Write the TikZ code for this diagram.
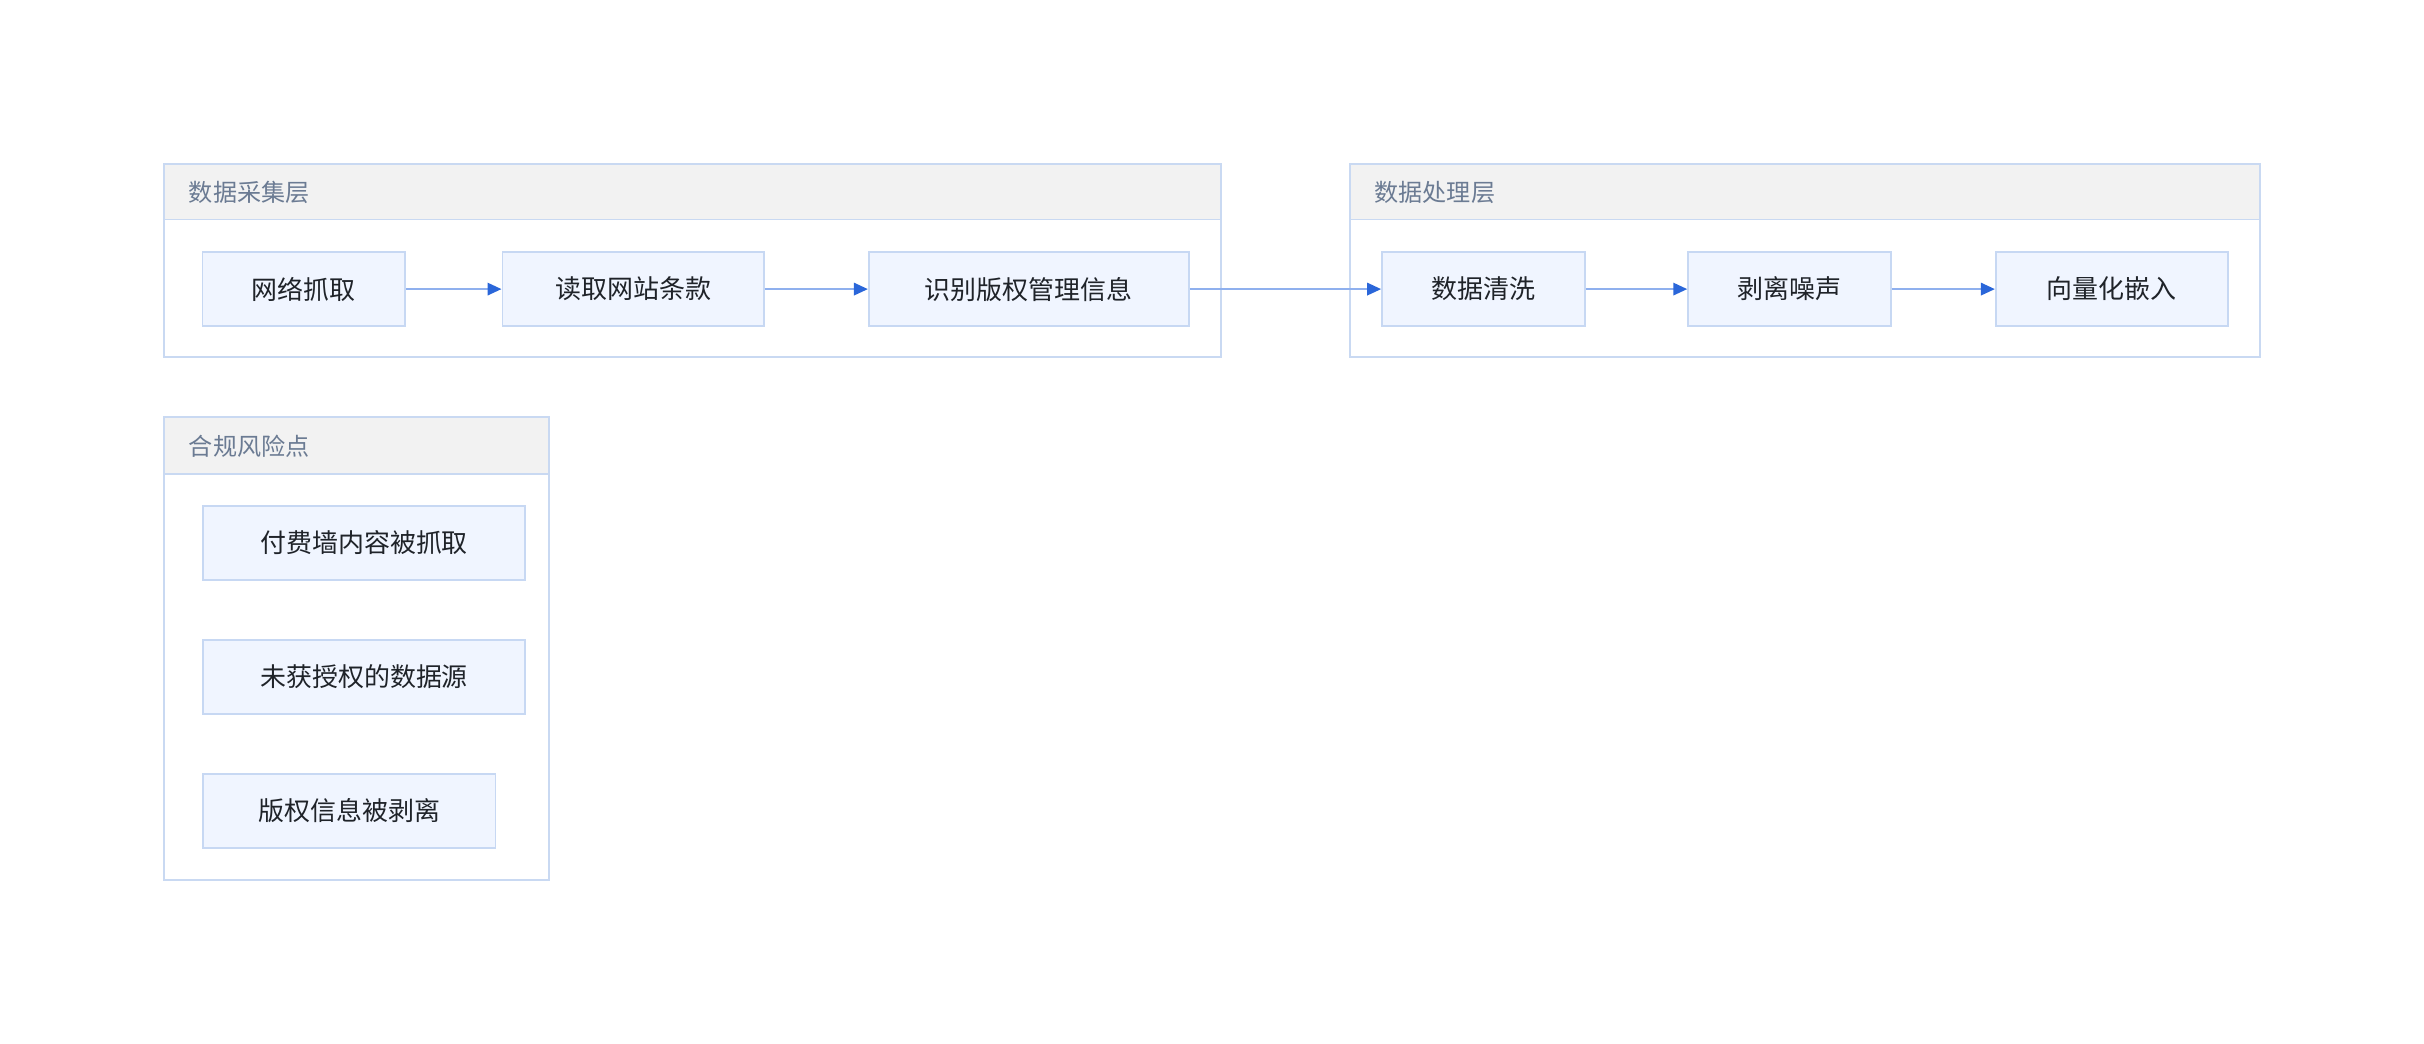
\documentclass[tikz,border=0pt]{standalone}
\usepackage{fontspec}
\setmainfont{Noto Sans CJK SC}
\usetikzlibrary{arrows.meta}
\definecolor{nodefill}{HTML}{F0F5FF}
\definecolor{nodeborder}{HTML}{C7D8F3}
\definecolor{grpborder}{HTML}{C9D9F2}
\definecolor{hdrfill}{HTML}{F2F2F2}
\definecolor{hdrtext}{HTML}{6B7B93}
\definecolor{lineclr}{HTML}{8FB0EE}
\definecolor{headclr}{HTML}{2A66D9}
\definecolor{txt}{HTML}{1F2329}
\tikzset{
  stepbox/.style={draw=nodeborder, fill=nodefill, line width=1.2pt, inner sep=0pt,
    font=\fontsize{16.8}{19}\selectfont, text=txt},
  grpbox/.style={draw=grpborder, line width=1.2pt},
  hdrbox/.style={draw=grpborder, fill=hdrfill, line width=1.2pt},
  grptitle/.style={anchor=west, inner sep=0pt, font=\fontsize{15.6}{18}\selectfont, text=hdrtext},
  flow/.style={draw=lineclr, line width=1.3pt, -{Triangle[length=9pt,width=8pt,color=headclr]}}
}
\begin{document}
\begin{tikzpicture}[x=1pt,y=-1pt]
\useasboundingbox (0,0) rectangle (1568,675.3);
% group frames
\draw[grpbox] (106,106) rectangle (790,231);
\draw[hdrbox] (106,106) rectangle (790,142);
\node[grptitle] (t1) at (122,124.5) {数据采集层};
\draw[grpbox] (873,106) rectangle (1462,231);
\draw[hdrbox] (873,106) rectangle (1462,142);
\node[grptitle] (t2) at (889,124.5) {数据处理层};
\draw[grpbox] (106,270) rectangle (355.3,569);
\draw[hdrbox] (106,270) rectangle (355.3,306.5);
\node[grptitle] (t3) at (122,288.5) {合规风险点};
% nodes
\node[stepbox, minimum width=131pt, minimum height=48pt] (a1) at (196.5,187) {网络抓取};
\node[stepbox, minimum width=169pt, minimum height=48pt] (a2) at (409.5,187) {读取网站条款};
\node[stepbox, minimum width=207pt, minimum height=48pt] (a3) at (665.5,187) {识别版权管理信息};
\node[stepbox, minimum width=131pt, minimum height=48pt] (b1) at (959.5,187) {数据清洗};
\node[stepbox, minimum width=131pt, minimum height=48pt] (b2) at (1157.5,187) {剥离噪声};
\node[stepbox, minimum width=150pt, minimum height=48pt] (b3) at (1366,187) {向量化嵌入};
\node[stepbox, minimum width=208pt, minimum height=48pt] (r1) at (235.5,351.2) {付费墙内容被抓取};
\node[stepbox, minimum width=208pt, minimum height=48pt] (r2) at (235.5,437.9) {未获授权的数据源};
\node[stepbox, minimum width=189pt, minimum height=48pt] (r3) at (226,524.4) {版权信息被剥离};
% connectors
\draw[flow] (a1) -- (a2);
\draw[flow] (a2) -- (a3);
\draw[flow] (a3) -- (b1);
\draw[flow] (b1) -- (b2);
\draw[flow] (b2) -- (b3);
\end{tikzpicture}
\end{document}
